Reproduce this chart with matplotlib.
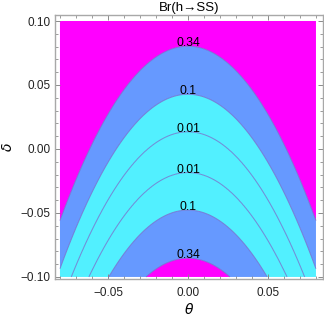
import numpy as np
import matplotlib
matplotlib.use("Agg")
import matplotlib.pyplot as plt
from matplotlib.ticker import MultipleLocator

# ---- data ----
levels = [0.01, 0.1, 0.34]               # contour levels of Br(h->SS)
level_labels = ["0.01", "0.1", "0.34"]
half_widths = [0.016, 0.0453, 0.0828]    # distance in delta from valley center at theta=0
valley_center = -0.0025                   # delta of the minimum at theta=0
curvature = 21.3                          # d(delta)/d(theta^2) of the parabolic contours
theta_range = [-0.08, 0.08]
delta_range = [-0.10, 0.10]

band_colors = ["#52F0FF", "#52F0FF", "#6699FF", "#FF00FF"]
line_color = "#6E6ECC"

plt.rcParams['font.family'] = ['Liberation Sans', 'DejaVu Sans']

fig = plt.figure(figsize=(3.24, 3.20), dpi=100)
ax = fig.add_axes([55/324, 41/320, 268/324, 264/320])

th = np.linspace(theta_range[0], theta_range[1], 600)
de = np.linspace(delta_range[0], delta_range[1], 600)
T, D = np.meshgrid(th, de)
u = np.abs(D - valley_center + curvature * T**2)
Br = np.interp(u, [0.0] + half_widths + [0.3], [0.0] + levels + [1.0])

bounds = [0.0] + levels + [1.0]
ax.contourf(T, D, Br, levels=bounds, colors=band_colors, antialiased=True)
ax.contour(T, D, Br, levels=levels, colors=line_color, linewidths=0.7, alpha=0.8)

for lv, lab, hw in zip(levels, level_labels, half_widths):
    for sgn in (1, -1):
        ax.text(0.0, valley_center + sgn * hw, lab, ha='center', va='baseline',
                fontsize=8.8, color='black')

ax.set_xlim(-0.0831, 0.0844)
ax.set_ylim(-0.1016, 0.1047)

for s in ax.spines.values():
    s.set_color('#A8A8A8')
    s.set_linewidth(1.0)

ax.xaxis.set_major_locator(MultipleLocator(0.05))
ax.xaxis.set_minor_locator(MultipleLocator(0.01))
ax.yaxis.set_major_locator(MultipleLocator(0.05))
ax.yaxis.set_minor_locator(MultipleLocator(0.01))
fmt = plt.FuncFormatter(lambda v, p: f"{v:.2f}".replace("-", "\u2212"))
ax.xaxis.set_major_formatter(fmt)
ax.yaxis.set_major_formatter(fmt)
ax.tick_params(which='both', direction='in', top=True, right=True, color='#8a8a8a',
               labelsize=8.5, labelcolor='#222222')
ax.tick_params(which='major', length=3.5, width=0.7)
ax.tick_params(which='minor', length=2, width=0.6)
ax.tick_params(axis='x', pad=6)
ax.tick_params(axis='y', pad=3)

ax.set_xlabel(r"$\theta$", fontsize=10, labelpad=2)
ax.set_ylabel(r"$\delta$", fontsize=10, labelpad=4)
ax.set_title("Br(h\u2192SS)", fontsize=9.5, pad=3)

fig.savefig("out.png", dpi=100)
